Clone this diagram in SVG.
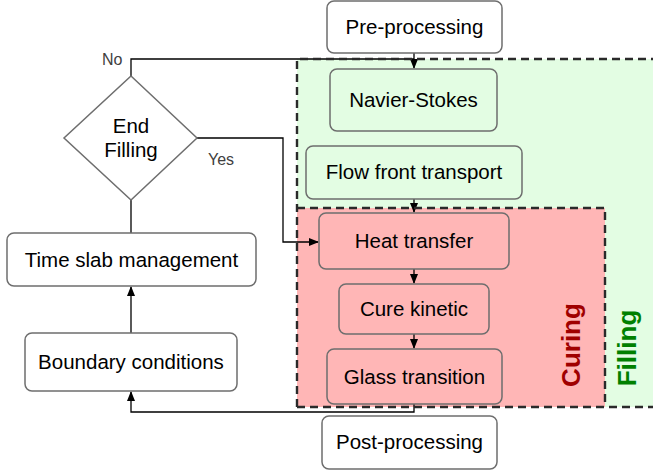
<svg xmlns="http://www.w3.org/2000/svg" width="653" height="472" viewBox="0 0 653 472">
<defs>
<marker id="arr" markerWidth="10" markerHeight="8" refX="9" refY="4" orient="auto" markerUnits="userSpaceOnUse">
<path d="M0,0 L10,4 L0,8 Z" fill="#000"/>
</marker>
<style>
.box{stroke:#6e6e6e;stroke-width:1.5}
.w{fill:#fff}
.g{fill:#e3fde3}
.r{fill:#ffb6b6}
.t{font-family:"Liberation Sans",Arial,sans-serif;font-size:20.5px;fill:#000;text-anchor:middle}
.lbl{font-family:"Liberation Sans",Arial,sans-serif;font-size:16px;fill:#404040}
.big{font-family:"Liberation Sans",Arial,sans-serif;font-size:26px;font-weight:bold;text-anchor:middle}
.dash{fill:none;stroke:#2a2a2a;stroke-width:2.4;stroke-dasharray:8,5}
.c{fill:none;stroke:#000;stroke-width:1.3}
</style>
</defs>
<rect width="653" height="472" fill="#fff"/>
<g id="filling-region">
<rect x="297" y="59" width="370" height="348" fill="#e3fde3"/>
</g>
<g id="curing-region">
<rect x="297" y="208" width="308" height="199" fill="#ffb6b6"/>
</g>
<g id="connectors">
<path class="c" d="M414,53 V68" marker-end="url(#arr)"/>
<path class="c" d="M131,76 V59 H414"/>
<path class="c" d="M197,138 H283 V242 H318" marker-end="url(#arr)"/>
<path class="c" d="M131,200 V233"/>
<path class="c" d="M131,333 V287" marker-end="url(#arr)"/>
<path class="c" d="M414,199 V212" marker-end="url(#arr)"/>
<path class="c" d="M414,269 V283" marker-end="url(#arr)"/>
<path class="c" d="M414,334 V348" marker-end="url(#arr)"/>
<path class="c" d="M414,404 V412 H131 V392" marker-end="url(#arr)"/>
</g>
<g id="borders">
<path class="dash" d="M297,407 V59 H660"/>
<path class="dash" d="M297,407 H660"/>
<path class="dash" d="M297,208 H605 V407"/>
</g>
<g id="pre-processing">
<rect class="box w" x="327" y="1" width="175" height="52" rx="7"/>
<text class="t" x="414.5" y="34">Pre-processing</text>
</g>
<g id="navier-stokes">
<rect class="box g" x="330" y="69" width="167" height="62" rx="7"/>
<text class="t" x="413.5" y="107">Navier-Stokes</text>
</g>
<g id="flow-front">
<rect class="box g" x="306" y="146" width="216" height="53" rx="7"/>
<text class="t" x="414" y="179">Flow front transport</text>
</g>
<g id="heat-transfer">
<rect class="box r" x="319" y="213" width="190" height="56" rx="7"/>
<text class="t" x="414" y="248">Heat transfer</text>
</g>
<g id="cure-kinetic">
<rect class="box r" x="339" y="284" width="150" height="50" rx="7"/>
<text class="t" x="414" y="316">Cure kinetic</text>
</g>
<g id="glass-transition">
<rect class="box r" x="327" y="349" width="175" height="55" rx="7"/>
<text class="t" x="414.5" y="384">Glass transition</text>
</g>
<g id="post-processing">
<rect class="box w" x="322" y="416" width="175" height="53" rx="7"/>
<text class="t" x="409.5" y="449">Post-processing</text>
</g>
<g id="end-filling">
<polygon points="131,76 197,138 131,200 64,138" fill="#fff" stroke="#6e6e6e" stroke-width="1.5"/>
<text class="t" x="131" y="133">End</text>
<text class="t" x="131" y="157">Filling</text>
</g>
<g id="time-slab">
<rect class="box w" x="7" y="233" width="249" height="53" rx="7"/>
<text class="t" x="131.5" y="267">Time slab management</text>
</g>
<g id="boundary">
<rect class="box w" x="25" y="333" width="212" height="58" rx="7"/>
<text class="t" x="131" y="369">Boundary conditions</text>
</g>
<g id="labels">
<text class="lbl" x="102" y="65">No</text>
<text class="lbl" x="208" y="165">Yes</text>
<text class="big" transform="translate(580,345) rotate(-90)" fill="#a00000">Curing</text>
<text class="big" transform="translate(636,348) rotate(-90)" fill="#008000">Filling</text>
</g>
</svg>
